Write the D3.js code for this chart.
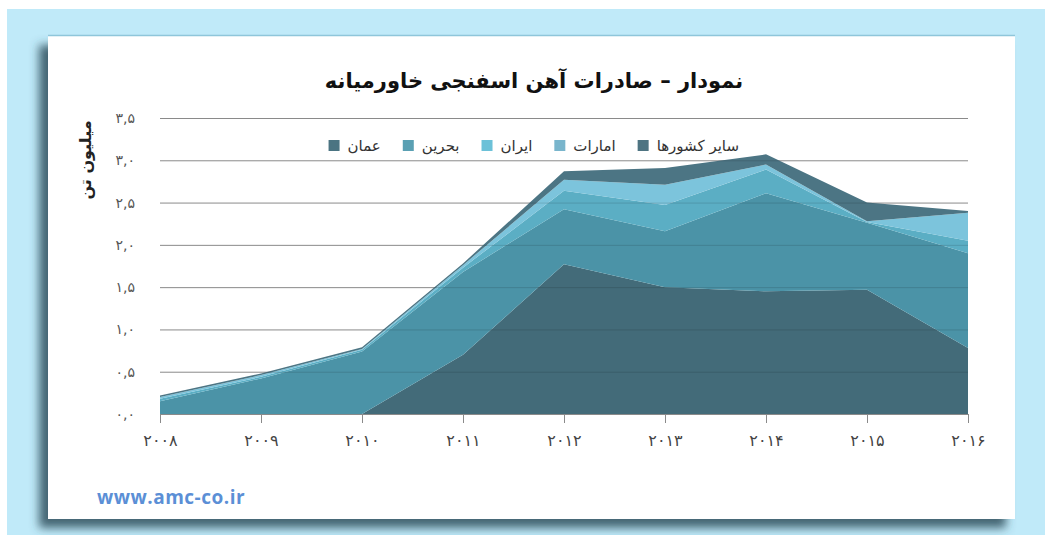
<!DOCTYPE html>
<html>
<head>
<meta charset="utf-8">
<script src="https://cdn.jsdelivr.net/npm/d3@7"></script>
<style>
  body { margin: 0; background: #fff; }
  svg { display: block; }
</style>
</head>
<body>
<div id="chart"></div>
<script>
// Data (million tonnes)
const years = [2008, 2009, 2010, 2011, 2012, 2013, 2014, 2015, 2016];
const oman = [0, 0, 0, 0.70, 1.77, 1.50, 1.45, 1.47, 0.78];
const bahrain = [0.15, 0.42, 0.74, 0.98, 0.65, 0.66, 1.16, 0.79, 1.12];
const iran = [0.03, 0.02, 0.02, 0.05, 0.22, 0.31, 0.28, 0.01, 0.15];
const uae = [0.02, 0.02, 0.01, 0.03, 0.13, 0.24, 0.06, 0.01, 0.33];
const others = [0.02, 0.02, 0.02, 0.02, 0.10, 0.20, 0.12, 0.22, 0.02];
const yTicks = [0, 0.5, 1, 1.5, 2, 2.5, 3, 3.5];

const seriesNames = ['عمان', 'بحرین', 'ایران', 'امارات', 'سایر کشورها'];
const seriesColors = ['#436b79', '#4b93a7', '#5baec4', '#7cc4dc', '#4c7584'];
const legendSwatch = ['#4b7482', '#5aa0b3', '#6cc1d8', '#79b5cc', '#4e7482'];

const W = 1045, H = 535;
const faDigits = s => String(s).replace(/\d/g, d => '۰۱۲۳۴۵۶۷۸۹'[d]);

const svg = d3.select('#chart').append('svg')
    .attr('width', W).attr('height', H);

const defs = svg.append('defs');
const shadow = defs.append('filter').attr('id', 'shadow')
    .attr('x', -0.1).attr('y', -0.1).attr('width', 1.2).attr('height', 1.2);
shadow.append('feGaussianBlur').attr('in', 'SourceAlpha').attr('stdDeviation', 5);
shadow.append('feOffset').attr('dx', -9).attr('dy', 9).attr('result', 'off');
shadow.append('feFlood').attr('flood-color', '#2f4f5c').attr('flood-opacity', 0.85);
shadow.append('feComposite').attr('in2', 'off').attr('operator', 'in').attr('result', 'sh');
const merge = shadow.append('feMerge');
merge.append('feMergeNode').attr('in', 'sh');
merge.append('feMergeNode').attr('in', 'SourceGraphic');

// Frame
svg.append('rect').attr('x', 7).attr('y', 9).attr('width', W - 7).attr('height', H - 9)
    .attr('fill', '#c0eaf9');
svg.append('rect').attr('x', 48).attr('y', 36).attr('width', 967).attr('height', 483)
    .attr('fill', '#fff').attr('filter', 'url(#shadow)');
svg.append('line').attr('x1', 48).attr('x2', 1015).attr('y1', 35.5).attr('y2', 35.5)
    .attr('stroke', '#8fc6da').attr('stroke-width', 1.5);

const x = d3.scaleLinear().domain([2008, 2016]).range([160, 968]);
const y = d3.scaleLinear().domain([0, 3.5]).range([414, 118]);

const table = years.map((yr, i) => ({
    year: yr, 'عمان': oman[i], 'بحرین': bahrain[i], 'ایران': iran[i],
    'امارات': uae[i], 'سایر کشورها': others[i]
}));
const stacked = d3.stack().keys(seriesNames)(table);

const area = d3.area()
    .x(d => x(d.data.year))
    .y0(d => y(d[0]))
    .y1(d => y(d[1]));

// Gridlines under the areas
const grid = svg.append('g')
    .attr('transform', `translate(${x(2008)},0)`)
    .call(d3.axisLeft(y).tickValues(yTicks).tickSize(-(x(2016) - x(2008))).tickFormat(''));
grid.select('.domain').remove();
grid.selectAll('line').attr('stroke', '#8a8a8a');

svg.append('g').selectAll('path')
    .data(stacked)
    .join('path')
    .attr('d', area)
    .attr('fill', (d, i) => seriesColors[i]);

// Gridlines seen through the areas
defs.append('clipPath').attr('id', 'stackClip')
    .append('path').attr('d', d3.area()
        .x(d => x(d.data.year)).y0(y(0)).y1(d => y(d[1]))(stacked[stacked.length - 1]));
const grid2 = svg.append('g')
    .attr('clip-path', 'url(#stackClip)')
    .append('g')
    .attr('transform', `translate(${x(2008)},0)`)
    .call(d3.axisLeft(y).tickValues(yTicks.slice(1)).tickSize(-(x(2016) - x(2008))).tickFormat(''));
grid2.select('.domain').remove();
grid2.selectAll('line').attr('stroke', '#000').attr('stroke-opacity', 0.13);

// Y tick labels
const yAxis = svg.append('g')
    .attr('transform', `translate(135,0)`)
    .call(d3.axisLeft(y).tickValues(yTicks).tickSize(0).tickPadding(0)
        .tickFormat(d => faDigits(d.toFixed(1)).replace('.', ',')));
yAxis.select('.domain').remove();
yAxis.selectAll('text')
    .attr('font-family', 'DejaVu Sans, sans-serif')
    .attr('font-size', 14).attr('fill', '#555');

// X axis
const xAxis = svg.append('g')
    .attr('transform', `translate(0,${y(0)})`)
    .call(d3.axisBottom(x).tickValues(years).tickSize(9).tickPadding(12)
        .tickFormat(d => faDigits(d)));
xAxis.select('.domain').attr('stroke', '#8a8a8a');
xAxis.selectAll('line').attr('stroke', '#8a8a8a');
xAxis.selectAll('text')
    .attr('font-family', 'DejaVu Sans, sans-serif')
    .attr('font-size', 16).attr('fill', '#444');

// Title
svg.append('text')
    .attr('x', 534).attr('y', 88)
    .attr('text-anchor', 'middle')
    .attr('direction', 'rtl')
    .attr('font-family', 'DejaVu Sans, sans-serif')
    .attr('font-size', 21).attr('font-weight', 'bold').attr('fill', '#111')
    .text('نمودار – صادرات آهن اسفنجی خاورمیانه');

// Y axis title
svg.append('text')
    .attr('transform', 'translate(91,160) rotate(-90)')
    .attr('text-anchor', 'middle')
    .attr('font-family', 'DejaVu Sans, sans-serif')
    .attr('font-size', 16).attr('font-weight', 'bold').attr('fill', '#222')
    .text('میلیون تن');

// Legend laid out right-to-left, swatch to the left of each label
const legend = svg.append('g');
let cursor = 739;
for (let i = seriesNames.length - 1; i >= 0; i--) {
    const t = legend.append('text')
        .attr('x', cursor).attr('y', 151)
        .attr('text-anchor', 'end')
        .attr('font-family', 'DejaVu Sans, sans-serif')
        .attr('font-size', 15).attr('fill', '#333')
        .text(seriesNames[i]);
    const len = t.node().getComputedTextLength();
    const sx = cursor - len - 19;
    legend.append('rect')
        .attr('x', sx).attr('y', 140)
        .attr('width', 11).attr('height', 11)
        .attr('fill', legendSwatch[i]);
    cursor = sx - 22;
}

// Watermark
svg.append('text')
    .attr('x', 97).attr('y', 504)
    .attr('font-family', 'Open Sans, sans-serif')
    .attr('font-size', 19).attr('font-weight', 'bold').attr('fill', '#5b8fd6')
    .attr('letter-spacing', 0.5)
    .text('www.amc-co.ir');
</script>
</body>
</html>
